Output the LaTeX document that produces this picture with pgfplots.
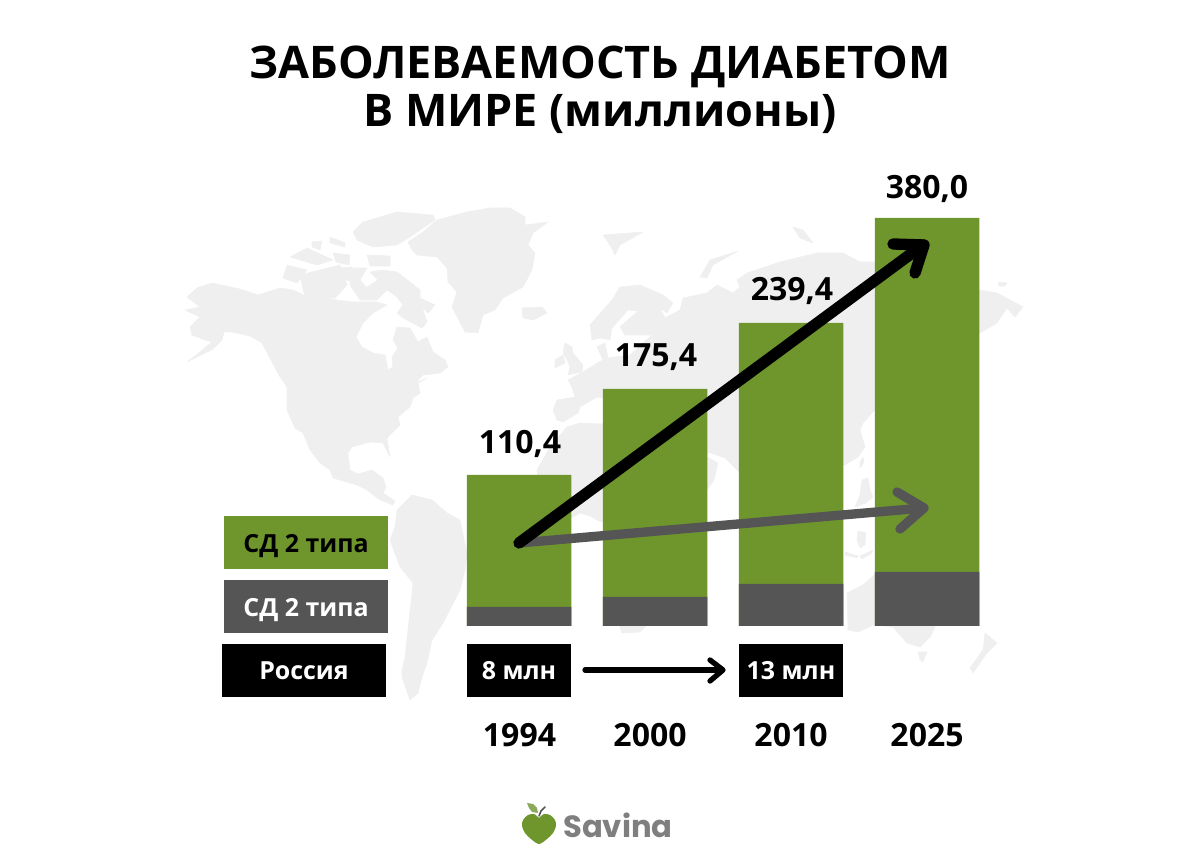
\documentclass[border=0pt]{standalone}
\usepackage{fontspec}
\setmainfont{Open Sans}
\newfontfamily\logofont{Poppins}
\usepackage{pgfplots}
\pgfplotsset{compat=1.18}
\definecolor{barG}{HTML}{6F962C}
\definecolor{barD}{HTML}{555555}
\definecolor{mapc}{HTML}{EFEFEF}
\definecolor{leaf}{HTML}{8AA95A}
\definecolor{logot}{HTML}{7F7F7F}
% coordinates are pixels of the 1200x863 picture; y of the bars counts up from the baseline (626)
\pgfplotsset{
  px/.style={y filter/.expression={626-y},mark=none},
  land/.style={px,fill=mapc,draw=mapc,line width=0.4pt,line join=round,forget plot},
  arrowline/.style={px,line cap=round,line join=round,forget plot},
}
\newcommand{\fsz}[1]{\fontsize{#1}{#1}\selectfont\bfseries}
\newcommand{\lbl}[5]{\node[anchor=base,inner sep=0pt,text=#3] at (axis cs:#1,{626-#2}) {\fsz{#4}#5};}
\newcommand{\pxbox}[5]{\fill[#5] (axis cs:#1,{626-#2}) rectangle (axis cs:#3,{626-#4});}
\begin{document}
\begin{tikzpicture}
\useasboundingbox (0,0) rectangle (900pt,647.25pt);
\begin{axis}[
at={(0,0)},anchor=south west,
scale only axis,
width=900pt,height=647.25pt,
xmin=0,xmax=1200,ymin=-237,ymax=626,
hide axis,clip=false,
]
% world map
\addplot[land] coordinates {
(187,362)(213,349)(222,340)(224,332)(232,332)(250,336)(262,343)(272,362)(280,377)(287,387)(287,410)(295,428)(303,433)(310,450)(320,463)(330,470)(333,478)(357,485)(367,490)(380,500)(393,505)(395,501)(383,493)(386,487)(383,478)(372,470)(358,474)(350,470)(348,453)(352,447)(370,442)(383,443)(390,457)(387,438)(400,425)(398,417)(410,407)(413,398)(420,393)(418,383)(427,378)(415,383)(423,375)(440,373)(448,367)(445,360)(433,352)(427,337)(418,342)(410,328)(397,327)(393,340)(398,348)(392,357)(393,367)(388,370)(385,355)(373,353)(362,347)(356,337)(363,323)(373,313)(387,305)(377,302)(353,302)(337,300)(323,297)(310,298)(293,290)(280,288)(258,295)(240,289)(212,283)(197,288)(187,297)(200,307)(185,310)(200,317)(190,327)(192,335)(205,340)(212,342)(200,352)
} --cycle;
\addplot[land] coordinates {(378,280)(370,272)(383,270)(397,272)(410,282)(420,290)(420,298)(435,305)(428,313)(422,307)(427,322)(422,328)(403,318)(397,313)(403,305)(397,297)(387,290)(377,300)(367,287)} --cycle;
\addplot[land] coordinates {(353,232)(363,222)(397,212)(433,215)(435,220)(410,237)(397,245)(373,247)(357,240)} --cycle;
\addplot[land] coordinates {(290,257)(307,248)(333,260)(317,265)} --cycle;
\addplot[land] coordinates {(283,278)(287,265)(307,270)(297,283)} --cycle;
\addplot[land] coordinates {(300,275)(340,265)(347,285)(335,298)(305,298)} --cycle;
\addplot[land] coordinates {(337,268)(352,267)(353,282)(337,278)} --cycle;
\addplot[land] coordinates {(353,268)(367,268)(360,280)(377,300)(360,300)(350,285)} --cycle;
\addplot[land] coordinates {(330,237)(345,243)(345,247)(330,243)} --cycle;
\addplot[land] coordinates {(312,242)(322,241)(320,250)(312,247)} --cycle;
\addplot[land] coordinates {(367,255)(390,256)(390,266)(370,266)} --cycle;
\addplot[land] coordinates {(333,253)(350,255)(349,265)(336,262)} --cycle;
% Greenland, Iceland
\addplot[land] coordinates {(408,242)(423,232)(437,220)(467,212)(490,208)(510,208)(525,217)(525,225)(548,222)(533,233)(528,245)(535,253)(532,270)(523,287)(503,298)(495,310)(483,315)(478,333)(465,332)(452,307)(457,292)(448,282)(447,268)(437,257)(417,255)(412,250)} --cycle;
\addplot[land] coordinates {(522,308)(542,307)(547,313)(533,320)(523,318)} --cycle;
% South America
\addplot[land] coordinates {(397,510)(412,495)(432,500)(447,513)(460,520)(467,553)(465,570)(460,590)(443,623)(432,640)(427,663)(422,677)(418,693)(410,700)(402,677)(402,670)(405,657)(412,593)(413,583)(400,567)(390,540)(395,527)} --cycle;
% Eurasia and Africa
\addplot[land] coordinates {
(583,372)(597,363)(603,360)(597,347)(605,343)(608,358)(630,355)(652,335)(625,335)(620,327)(638,311)(628,310)(612,328)(610,340)(600,338)(592,340)(590,325)(612,300)(620,287)(640,285)(663,295)(673,303)(667,313)(660,308)(665,318)(680,310)(683,298)(707,293)(717,285)(733,293)(740,287)(737,280)(747,273)(780,262)(817,253)(843,253)(860,262)(875,262)(980,290)(997,293)(1023,307)(1015,317)(1007,308)(997,323)(980,333)(940,350)(875,410)(872,413)(863,423)(860,430)(865,447)(858,457)(845,465)(800,480)(739,472)(725,458)(708,452)(707,457)(718,463)(714,480)(707,490)(690,520)(675,560)(650,620)(645,627)(640,632)(622,633)(620,627)(607,570)(603,522)(597,520)(590,516)(580,513)(571,518)(555,505)(540,490)(537,470)(550,447)(567,427)(580,423)(603,424)(610,420)(610,398)(603,398)(597,397)(580,407)(578,413)(563,422)(557,420)(553,410)(557,400)(575,397)(572,387)(568,380)
} --cycle;
\addplot[land] coordinates {(565,343)(572,347)(573,353)(583,365)(582,372)(568,375)(570,367)(567,360)(563,353)} --cycle;
\addplot[land] coordinates {(555,360)(563,355)(565,363)(555,368)} --cycle;
\addplot[land] coordinates {(603,235)(643,232)(620,245)(615,255)(610,245)} --cycle;
\addplot[land] coordinates {(700,277)(710,260)(738,251)(713,265)(707,278)} --cycle;
\addplot[land] coordinates {(793,227)(803,230)(813,243)(800,238)} --cycle;
\addplot[land] coordinates {(998,282)(1007,283)(1005,286)(999,286)} --cycle;
% islands east of Asia
\addplot[land] coordinates {(863,457)(864,462)(860,468)(860,462)} --cycle;
\addplot[land] coordinates {(862,480)(868,478)(870,490)(873,497)(866,503)(855,507)(860,495)} --cycle;
\addplot[land] coordinates {(858,531)(866,533)(865,545)(860,548)(857,540)} --cycle;
\addplot[land] coordinates {(845,552)(858,556)(857,558)(845,555)} --cycle;
\addplot[land] coordinates {(860,556)(873,550)(871,554)(862,559)} --cycle;
% Australia, New Zealand
\addplot[land] coordinates {(847,593)(863,585)(874,575)(890,570)(935,627)(930,637)(920,647)(907,643)(893,627)(874,625)(858,632)(848,630)} --cycle;
\addplot[land] coordinates {(918,652)(927,652)(923,662)(920,660)} --cycle;
\addplot[land] coordinates {(985,633)(997,643)(987,653)(973,673)(970,668)(983,650)} --cycle;

% bars, heights in picture pixels above the baseline (the source bars are not to scale)
\addplot[ybar,bar shift=0pt,bar width=104.5,fill=barG,draw=none,forget plot] coordinates {(519,151)(655,237)(791,303)(927,408)};
\addplot[ybar,bar shift=0pt,bar width=104.5,fill=barD,draw=none,forget plot] coordinates {(519,19)(655,29)(791,42)(927,54)};

% trend arrows
\addplot[arrowline,color=barD,line width=7pt] coordinates {(519,543)(923,508)};
\addplot[arrowline,color=barD,line width=7pt] coordinates {(897,492)(924,508)(900,529)};
\addplot[arrowline,color=black,line width=8.5pt] coordinates {(519,543)(923,245)};
\addplot[arrowline,color=black,line width=8.5pt] coordinates {(893,244)(924,245)(915,273)};
\addplot[arrowline,color=black,line width=4pt] coordinates {(585,670)(722,670)};
\addplot[arrowline,color=black,line width=4pt] coordinates {(710,660)(723,670)(710,681)};

% legend and Russia boxes
\pxbox{224}{516}{388}{569}{barG}
\pxbox{224}{580}{388}{633}{barD}
\pxbox{222}{644}{386}{697}{black}
\pxbox{467}{644}{571}{697}{black}
\pxbox{739}{644}{843}{697}{black}

% text
\lbl{600}{79}{black}{33.7}{ЗАБОЛЕВАЕМОСТЬ ДИАБЕТОМ}
\lbl{600}{127}{black}{33.7}{В МИРЕ (миллионы)}
\lbl{520}{454}{black}{24}{110,4}
\lbl{656}{367}{black}{24}{175,4}
\lbl{792}{301}{black}{24}{239,4}
\lbl{927}{199}{black}{24}{380,0}
\lbl{306}{553}{black}{18.7}{СД 2 типа}
\lbl{306}{617}{white}{18.7}{СД 2 типа}
\lbl{304}{680}{white}{18.7}{Россия}
\lbl{519}{680}{white}{18.7}{8 млн}
\lbl{791}{680}{white}{18.7}{13 млн}
\lbl{519.5}{747}{black}{24}{1994}
\lbl{650}{747}{black}{24}{2000}
\lbl{791}{747}{black}{24}{2010}
\lbl{927}{747}{black}{24}{2025}

% logo
\addplot[px,smooth,fill=barG,draw=none,forget plot] coordinates {(539,818)(534,814)(528,815)(523,820)(522,826)(525,833)(531,839)(539,844)(547,839)(553,833)(556,826)(555,820)(550,815)(544,814)(539,818)};
\addplot[px,fill=leaf,draw=none,forget plot] coordinates {(527,803)(533,804)(537,808)(538,813)(532,812)(529,808)} --cycle;
\addplot[arrowline,color=barD,line width=1.2pt] coordinates {(539,816)(541,811)(545,807)};
\node[anchor=base west,inner sep=0pt,text=logot] at (axis cs:563,{626-838}) {\logofont\fontsize{23}{23}\selectfont\bfseries Savina};
\end{axis}
\end{tikzpicture}
\end{document}
